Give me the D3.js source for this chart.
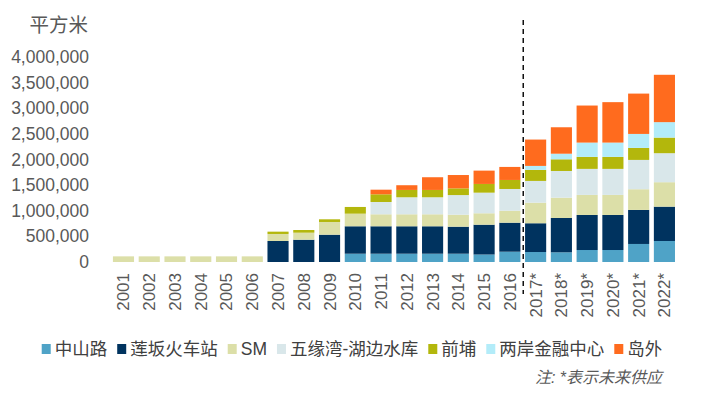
<!DOCTYPE html>
<html>
<head>
<meta charset="utf-8">
<script src="https://cdn.jsdelivr.net/npm/d3@7"></script>
<style>
  html, body { margin: 0; padding: 0; background: #fff; }
  svg { display: block; font-family: "Liberation Sans", Arial, "Noto Sans CJK SC", sans-serif; }
</style>
</head>
<body>
<svg id="chart" width="710" height="398"></svg>
<script>
// categories
const years = ['2001', '2002', '2003', '2004', '2005', '2006', '2007', '2008', '2009', '2010', '2011',
  '2012', '2013', '2014', '2015', '2016', '2017*', '2018*', '2019*', '2020*', '2021*', '2022*'];

// series values, square metres
const zhongshan = [0, 0, 0, 0, 0, 0, 0, 0, 0, 162000, 162000, 162000, 162000, 162000, 146000, 201000,
  195000, 189000, 234000, 234000, 352000, 410000];
const lianban = [0, 0, 0, 0, 0, 0, 410000, 435000, 533000, 535000, 535000, 535000, 535000, 527000, 582000, 566000,
  561000, 670000, 684000, 684000, 664000, 670000];
const sm = [110000, 110000, 110000, 110000, 110000, 110000, 137000, 137000, 248000, 246000, 234000, 234000,
  234000, 234000, 223000, 234000, 402000, 396000, 391000, 391000, 404000, 477000];
const wuyuan = [0, 0, 0, 0, 0, 0, 0, 0, 0, 0, 240000, 332000, 332000, 383000, 402000, 424000,
  424000, 521000, 508000, 508000, 572000, 566000];
const qianpu = [0, 0, 0, 0, 0, 0, 45000, 52000, 52000, 131000, 150000, 143000, 143000, 131000, 170000, 176000,
  215000, 228000, 234000, 234000, 234000, 305000];
const liangan = [0, 0, 0, 0, 0, 0, 0, 0, 0, 0, 0, 0, 0, 0, 0, 0,
  78000, 109000, 279000, 279000, 273000, 301000];
const daowai = [0, 0, 0, 0, 0, 0, 0, 0, 0, 0, 90000, 92000, 248000, 260000, 260000, 254000,
  514000, 516000, 723000, 789000, 787000, 924000];

const seriesNames = ['中山路', '莲坂火车站', 'SM', '五缘湾-湖边水库', '前埔', '两岸金融中心', '岛外'];
const seriesValues = [zhongshan, lianban, sm, wuyuan, qianpu, liangan, daowai];
const seriesColors = ['#4fa3c7', '#00335f', '#dcdfa8', '#d9e7ea', '#b3b70c', '#b3ecf9', '#ff6b1e'];

const yTicks = [0, 500000, 1000000, 1500000, 2000000, 2500000, 3000000, 3500000, 4000000];
const yUnit = '平方米';
const note = '注: *表示未来供应';
const forecastStart = '2017*';

const svg = d3.select('#chart');
const textColor = '#595959';

// table for the stack
const table = years.map((y, i) => {
  const row = { year: y };
  seriesNames.forEach((n, j) => { row[n] = seriesValues[j][i]; });
  return row;
});
const stacked = d3.stack().keys(seriesNames)(table);

const x = d3.scaleBand()
  .domain(years)
  .range([110.6, 677.3])
  .paddingInner(0.18)
  .paddingOuter(0.09);

const y = d3.scaleLinear()
  .domain([0, 4000000])
  .range([262, 57]);

// bars
svg.append('g')
  .selectAll('g')
  .data(stacked)
  .enter()
  .append('g')
  .attr('fill', (d, i) => seriesColors[i])
  .selectAll('rect')
  .data((d) => d)
  .enter()
  .append('rect')
  .attr('x', (d) => x(d.data.year))
  .attr('y', (d) => y(d[1]))
  .attr('width', x.bandwidth())
  .attr('height', (d) => y(d[0]) - y(d[1]));

// y axis, labels only
const yAxis = d3.axisLeft(y)
  .tickValues(yTicks)
  .tickFormat(d3.format(','))
  .tickSize(0)
  .tickPadding(0);

const gy = svg.append('g')
  .attr('transform', 'translate(89,0)')
  .call(yAxis);
gy.select('.domain').remove();
gy.selectAll('text')
  .attr('fill', textColor)
  .attr('font-size', '17.5px')
  .attr('font-family', null);

svg.append('text')
  .attr('x', 88)
  .attr('y', 32)
  .attr('text-anchor', 'end')
  .attr('fill', textColor)
  .attr('font-size', '19.5px')
  .text(yUnit);

// x axis, rotated labels
const xAxis = d3.axisBottom(x).tickSize(0).tickPadding(0);
const gx = svg.append('g')
  .attr('transform', 'translate(0,273)')
  .call(xAxis);
gx.select('.domain').remove();
gx.selectAll('text')
  .attr('fill', textColor)
  .attr('font-size', '17px')
  .attr('font-family', null)
  .attr('transform', 'rotate(-90)')
  .attr('text-anchor', 'end')
  .attr('x', 0)
  .attr('y', 0)
  .attr('dy', '0.35em');

// dashed divider before the forecast years
const divX = x(forecastStart) - (x.step() - x.bandwidth()) / 2 + 0.5;
svg.append('line')
  .attr('x1', divX)
  .attr('x2', divX)
  .attr('y1', 20)
  .attr('y2', 294)
  .attr('stroke', '#111')
  .attr('stroke-width', 1.5)
  .attr('stroke-dasharray', '5,4');

// legend
const legend = svg.append('g');
let lx = 0;
seriesNames.forEach((n, i) => {
  const item = legend.append('g').attr('transform', `translate(${lx},0)`);
  item.append('rect')
    .attr('x', 0)
    .attr('y', -5)
    .attr('width', 9)
    .attr('height', 10)
    .attr('fill', seriesColors[i]);
  const t = item.append('text')
    .attr('x', 13)
    .attr('y', 0)
    .attr('dy', '0.36em')
    .attr('fill', '#404040')
    .attr('font-size', '17.5px')
    .text(n);
  lx += 13 + t.node().getComputedTextLength() + 10;
});
const legendWidth = lx - 10;
legend.attr('transform', `translate(${352 - legendWidth / 2},349)`);

// note
svg.append('text')
  .attr('x', 662)
  .attr('y', 383)
  .attr('text-anchor', 'end')
  .attr('fill', textColor)
  .attr('font-size', '16px')
  .attr('font-style', 'italic')
  .text(note);
</script>
</body>
</html>
